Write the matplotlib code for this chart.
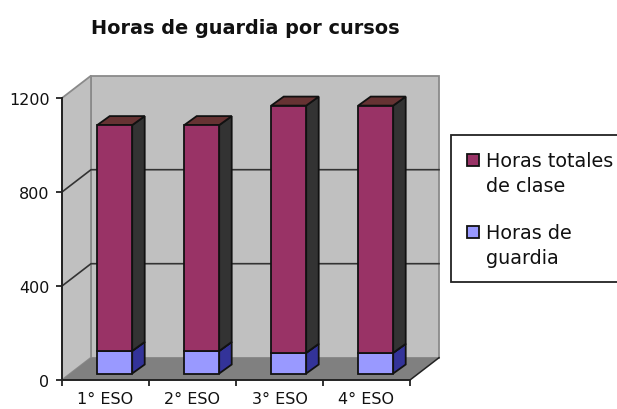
import matplotlib
matplotlib.use("Agg")
import matplotlib.pyplot as plt
from matplotlib.patches import Polygon, Patch
from matplotlib.transforms import Affine2D

categories = ["1° ESO", "2° ESO", "3° ESO", "4° ESO"]
horas_totales = [1057, 1057, 1140, 1140]
horas_guardia = [96, 96, 88, 88]
y_ticks = [0, 400, 800, 1200]
title = "Horas de guardia por cursos"
legend_labels = ["Horas totales\nde clase", "Horas de\nguardia"]

W, H = 617, 410
DPI = 100
L, R, B, T = 62, 410, 381, 99          # pixel frame of the front plane
DEPTH = (29, 22.3)                     # 3D depth of the plot box, px
FRONT = (9.2, 6.5)                     # bar front plane offset, px
BAR_DEPTH = (12.5, 9.0)                # bar depth, px
BAR_W = 35 / 87

fig = plt.figure(figsize=(W / DPI, H / DPI), dpi=DPI, facecolor="white")
ax = fig.add_axes([L / W, 1 - B / H, (R - L) / W, (B - T) / H])
ax.set_xlim(0, len(categories))
ax.set_ylim(0, 1200)
ax.patch.set_visible(False)

def shift(dx, dy):
    return ax.transData + Affine2D().translate(dx, dy)

def poly(pts, tr, **kw):
    ax.add_patch(Polygon(pts, closed=True, transform=tr, clip_on=False, **kw))

x0, x1 = ax.get_xlim()
y0, y1 = ax.get_ylim()
back = shift(*DEPTH)
data_to_back = lambda x, y: ax.transData.inverted().transform(back.transform((x, y)))
bl, br = data_to_back(x0, y0), data_to_back(x1, y0)
tl, tr_ = data_to_back(x0, y1), data_to_back(x1, y1)

wall = "#c0c0c0"
edge = "#8a8a8a"
t = ax.transData
poly([bl, br, tr_, tl], t, facecolor=wall, edgecolor=edge, lw=1.3, zorder=1)
poly([(x0, y0), bl, tl, (x0, y1)], t, facecolor=wall, edgecolor=edge, lw=1.3, zorder=1)
poly([(x0, y0), (x1, y0), br, bl], t, facecolor="#808080", edgecolor="none", zorder=1.5)
ax.plot([x1, br[0]], [y0, br[1]], color="#222222", lw=1.1, zorder=1.6, clip_on=False)

for v in y_ticks[1:3]:
    a = data_to_back(x0, v)
    b = data_to_back(x1, v)
    ax.plot([x0, a[0], b[0]], [v, a[1], b[1]], color="#333333", lw=1.2, zorder=2, clip_on=False)

front = shift(*FRONT)
xs = [i + 0.5 for i in range(len(categories))]
series = [
    (horas_guardia, [0] * 4, "#9999ff", "#333399", "#333399"),
    ([a - b for a, b in zip(horas_totales, horas_guardia)], horas_guardia, "#993366", "#333333", "#663333"),
]
dx, dy = BAR_DEPTH
pxdata = ax.transData.inverted()
ox = (pxdata.transform((dx, dy)) - pxdata.transform((0, 0)))
for vals, bottoms, fc, side, top in series:
    ax.bar(xs, vals, BAR_W, bottom=bottoms, color=fc, edgecolor="#111111", lw=1.3,
           transform=front, zorder=4, clip_on=False)
    for x, v, b in zip(xs, vals, bottoms):
        xr, xl = x + BAR_W / 2, x - BAR_W / 2
        poly([(xr, b), (xr + ox[0], b + ox[1]), (xr + ox[0], b + v + ox[1]), (xr, b + v)],
             front, facecolor=side, edgecolor="#111111", lw=1.3, zorder=3.5)
        poly([(xl, b + v), (xr, b + v), (xr + ox[0], b + v + ox[1]), (xl + ox[0], b + v + ox[1])],
             front, facecolor=top, edgecolor="#111111", lw=1.3, zorder=3.5)

for s in ("top", "right"):
    ax.spines[s].set_visible(False)
for s in ("left", "bottom"):
    ax.spines[s].set_linewidth(1.4)
    ax.spines[s].set_color("#222222")
    ax.spines[s].set_zorder(6)

ax.set_yticks(y_ticks)
ax.set_yticklabels([str(v) for v in y_ticks], fontsize=11.5, color="#111111")
ax.set_xticks(range(len(categories) + 1))
ax.set_xticklabels([])
ax.set_xticks(xs, minor=True)
ax.set_xticklabels(categories, minor=True, fontsize=11.5, color="#111111")
ax.tick_params(axis="y", length=4, width=1.3, pad=5, color="#222222")
ax.tick_params(axis="x", which="major", length=4, width=1.3, color="#222222")
ax.tick_params(axis="x", which="minor", length=0, pad=8)

fig.text(245 / W, 1 - 28 / H, title, fontsize=13.9, fontweight="bold",
         ha="center", va="center", color="#111111")

handles = [Patch(facecolor="#993366", edgecolor="#111111", lw=1.3),
           Patch(facecolor="#9999ff", edgecolor="#111111", lw=1.3)]
leg = fig.legend(handles, legend_labels, loc="upper left",
                 bbox_to_anchor=(451 / W, 1 - 136 / H), fontsize=13.8,
                 frameon=True, fancybox=False, framealpha=1, edgecolor="#222222",
                 handlelength=0.62, handleheight=0.62, handletextpad=0.41,
                 borderpad=0.82, labelspacing=1.45, borderaxespad=0)
leg.get_frame().set_linewidth(1.3)
for txt in leg.get_texts():
    txt.set_color("#111111")
    txt.set_linespacing(1.4)
for h in leg.legend_handles:
    h.set_y(h.get_y() + 9.5)

fig.savefig("out.png", dpi=DPI, facecolor="white")
